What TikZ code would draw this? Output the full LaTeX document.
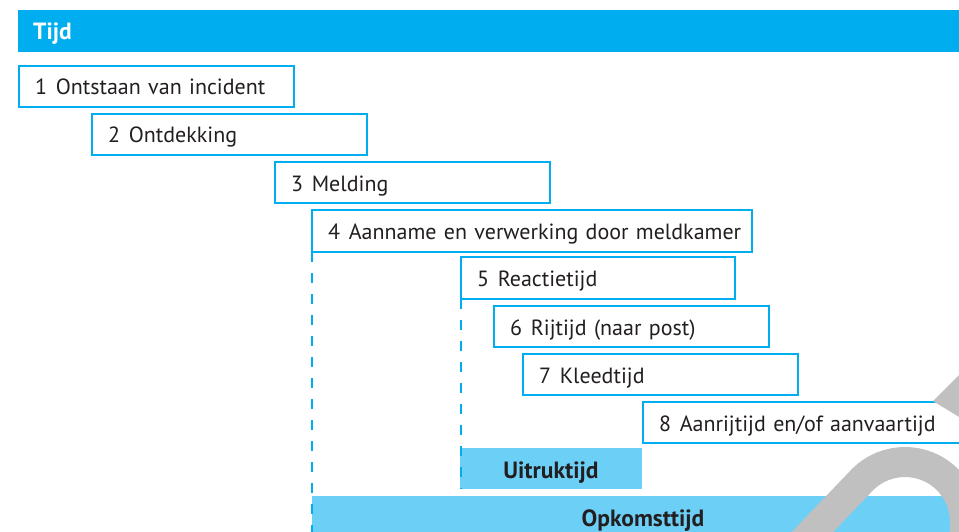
\documentclass[tikz,border=0pt]{standalone}
\usepackage{fontspec}
\setmainfont{PT Sans}
\definecolor{tijdblue}{RGB}{0,174,239}
\definecolor{barblue}{RGB}{108,207,246}
\definecolor{inkgray}{RGB}{35,31,32}
\definecolor{markgray}{RGB}{192,192,192}
\newcommand{\fasenr}[2]{\mbox{#1\hspace{0.4em}#2}}

\begin{document}
\begin{tikzpicture}[x=1pt,y=-1pt,
  fase/.style={draw=tijdblue, line width=2.6pt, fill=white,
    inner xsep=16pt, inner ysep=0pt, outer sep=0pt,
    minimum height=41pt, text height=21pt, text depth=4pt,
    align=left, anchor=north west, text=inkgray,
    font=\fontsize{22pt}{26pt}\selectfont},
  balk/.style={fill=barblue, inner sep=0pt, outer sep=0pt,
    minimum height=41pt, text height=22pt, text depth=3pt,
    anchor=north west, text=inkgray,
    font=\fontsize{23.5pt}{28pt}\selectfont\bfseries},
  stippel/.style={draw=tijdblue, line width=2.8pt, dash pattern=on 10pt off 11pt}
]
\clip (0,0) rectangle (959,532);

% header bar
\node[fill=tijdblue, inner sep=0pt, outer sep=0pt, anchor=north west,
      minimum width=960pt, minimum height=42pt] (kop) at (18,10) {};
\node[anchor=base west, text=white, inner sep=0pt,
      font=\fontsize{23.5pt}{28pt}\selectfont\bfseries] (tijd) at (33,40) {Tijd};

% phases
\node[fase, text width=243pt] (f1) at (19,66)  {\fasenr{1}{Ontstaan van incident}};
\node[fase, text width=243pt] (f2) at (92,114) {\fasenr{2}{Ontdekking}};
\node[fase, text width=243pt] (f3) at (275,162) {\fasenr{3}{Melding}};
\node[fase, text width=408pt, minimum height=42pt] (f4) at (312,210) {\fasenr{4}{Aanname en verwerking door meldkamer}};
\node[fase, text width=242pt, minimum height=42pt] (f5) at (461,257) {\fasenr{5}{Reactietijd}};
\node[fase, text width=243pt] (f6) at (494,306) {\fasenr{6}{Rijtijd (naar post)}};
\node[fase, text width=243pt] (f7) at (523,354) {\fasenr{7}{Kleedtijd}};
\node[fase, text width=340pt] (f8) at (643,402) {\fasenr{8}{Aanrijtijd en/of aanvaartijd}};

% summary bars
\node[balk, minimum width=182pt] (uit) at (460,448) {Uitruktijd};
\node[balk, minimum width=662pt] (opk) at (312,496) {Opkomsttijd};

% dashed guides
\coordinate (eind4) at (312,545);
\draw[stippel] (f4.south west) -- (eind4);
\draw[stippel] (f5.south west) -- (f5.south west |- uit.south);

% grey mark
\draw[markgray, line width=30pt] (800,545) -- (862.57,479.57)
  arc[start angle=225, end angle=360, radius=60] -- (965,545);
\fill[markgray] (933,401) -- (990,344) -- (990,436) -- cycle;
\end{tikzpicture}
\end{document}
